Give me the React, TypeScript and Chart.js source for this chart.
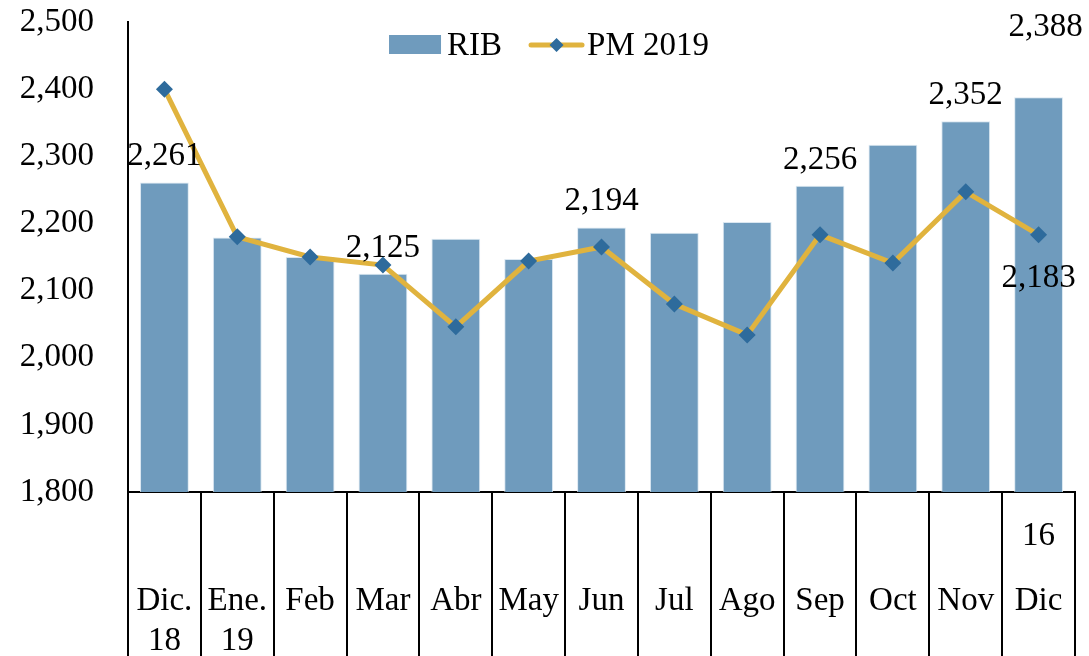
import React, { useEffect, useRef } from "react";
import { Chart, registerables } from "chart.js";

Chart.register(...registerables);

// ---- Data ----
const categories: (string | string[])[] = [
  ["Dic.", "18"],
  ["Ene.", "19"],
  "Feb",
  "Mar",
  "Abr",
  "May",
  "Jun",
  "Jul",
  "Ago",
  "Sep",
  "Oct",
  "Nov",
  ["16", "Dic"],
];
const ribValues = [2261, 2179, 2150, 2125, 2177, 2147, 2194, 2186, 2202, 2256, 2317, 2352, 2388];
const pmValues = [2400, 2180, 2150, 2138, 2046, 2144, 2165, 2080, 2034, 2183, 2141, 2247, 2183];
const ribLabeled = [0, 3, 6, 9, 11, 12];
const pmLabeled = [12];
const yMin = 1800;
const yMax = 2500;
const yStep = 100;

// ---- Styles ----
const FONT = '"Liberation Serif", "Times New Roman", serif';
const FONT_SIZE = 33;
const BAR = "#6f9bbd";
const LINE = "#e0b33e";
const DIAMOND = "#2e6b9c";

const fmt = (v: number) => v.toLocaleString("en-US");

const dataLabelsPlugin = {
  id: "dataLabels",
  afterDatasetsDraw(chart: any) {
    const ctx = chart.ctx;
    ctx.save();
    ctx.font = `${FONT_SIZE}px ${FONT}`;
    ctx.fillStyle = "#000";
    ctx.textAlign = "center";
    ctx.textBaseline = "alphabetic";
    const barMeta = chart.getDatasetMeta(0);
    ribLabeled.forEach((i) => {
      const el = barMeta.data[i];
      let x = el.x;
      let y = el.y - 17;
      if (i === ribValues.length - 1) {
        x += 7;
        y = el.y - 61;
      }
      ctx.fillText(fmt(ribValues[i]), x, y);
    });
    const lineMeta = chart.getDatasetMeta(1);
    pmLabeled.forEach((i) => {
      const el = lineMeta.data[i];
      ctx.fillText(fmt(pmValues[i]), el.x, el.y + 52);
    });
    ctx.restore();
  },
};

const xLabelsPlugin = {
  id: "xLabels",
  afterDraw(chart: any) {
    const { ctx, chartArea } = chart;
    const xs = chart.scales.x;
    ctx.save();
    ctx.font = `${FONT_SIZE}px ${FONT}`;
    ctx.fillStyle = "#000";
    ctx.textAlign = "center";
    ctx.textBaseline = "alphabetic";
    const base = chartArea.bottom + 118;
    categories.forEach((c, i) => {
      const lines = Array.isArray(c) ? c : [c];
      const x = xs.getPixelForValue(i);
      let anchor = lines.findIndex((l) => /[A-Za-z]/.test(l));
      if (anchor < 0) anchor = 0;
      lines.forEach((l, j) => {
        const y = j < anchor ? base - 65 * (anchor - j) : base + 40 * (j - anchor);
        ctx.fillText(l, x, y);
      });
    });
    ctx.restore();
  },
};

const legendPlugin = {
  id: "customLegend",
  afterDraw(chart: any) {
    const ctx = chart.ctx;
    ctx.save();
    ctx.font = `${FONT_SIZE}px ${FONT}`;
    ctx.textAlign = "left";
    ctx.textBaseline = "alphabetic";
    const ds = chart.data.datasets;
    const t1 = ds[0].label as string;
    const t2 = ds[1].label as string;
    const w1 = ctx.measureText(t1).width;
    const w2 = ctx.measureText(t2).width;
    const cy = 45;
    const base = 55;
    const boxW = 52;
    const lineW = 55;
    const total = boxW + 6 + w1 + 27 + lineW + 3 + w2;
    let x = 549 - total / 2;
    ctx.fillStyle = BAR;
    ctx.fillRect(x, cy - 10, boxW, 19);
    x += boxW + 6;
    ctx.fillStyle = "#000";
    ctx.fillText(t1, x, base);
    x += w1 + 27;
    ctx.strokeStyle = LINE;
    ctx.lineWidth = 5;
    ctx.lineCap = "round";
    ctx.beginPath();
    ctx.moveTo(x + 2, cy);
    ctx.lineTo(x + lineW - 2, cy);
    ctx.stroke();
    const dx = x + lineW / 2;
    const r = 7;
    ctx.fillStyle = DIAMOND;
    ctx.beginPath();
    ctx.moveTo(dx, cy - r);
    ctx.lineTo(dx + r, cy);
    ctx.lineTo(dx, cy + r);
    ctx.lineTo(dx - r, cy);
    ctx.closePath();
    ctx.fill();
    x += lineW + 3;
    ctx.fillStyle = "#000";
    ctx.fillText(t2, x, base);
    ctx.restore();
  },
};

export default function App() {
  const ref = useRef<HTMLCanvasElement>(null);
  useEffect(() => {
    const chart = new Chart(ref.current as HTMLCanvasElement, {
      type: "bar",
      data: {
        labels: categories as any,
        datasets: [
          {
            type: "bar",
            label: "RIB",
            data: ribValues,
            backgroundColor: BAR,
            borderColor: "rgba(214,228,240,0.9)",
            borderWidth: 1,
            barPercentage: 0.67,
            categoryPercentage: 1,
            order: 1,
          } as any,
          {
            type: "line",
            label: "PM 2019",
            data: pmValues,
            borderColor: LINE,
            borderWidth: 5,
            pointStyle: "rectRot",
            pointRadius: 8.5,
            pointHoverRadius: 8.5,
            pointBackgroundColor: DIAMOND,
            pointBorderWidth: 0,
            tension: 0,
            order: 0,
          } as any,
        ],
      },
      options: {
        responsive: false,
        animation: false,
        locale: "en-US",
        layout: { padding: { top: 22, right: 14, left: 0, bottom: 0 } },
        plugins: { legend: { display: false }, tooltip: { enabled: false } },
        scales: {
          x: {
            offset: true,
            grid: {
              display: true,
              offset: true,
              drawOnChartArea: false,
              drawTicks: true,
              tickLength: 164,
              color: "#000",
              lineWidth: 2,
            },
            border: { display: true, color: "#000", width: 2 },
            ticks: { display: false },
            afterFit: (s: any) => {
              s.height = 164;
              s.paddingLeft = 0;
              s.paddingRight = 0;
            },
          },
          y: {
            min: yMin,
            max: yMax,
            ticks: {
              stepSize: yStep,
              padding: 34,
              color: "#000",
              font: { family: FONT, size: FONT_SIZE },
            },
            grid: { display: false, drawTicks: false },
            border: { display: true, color: "#000", width: 2 },
            afterFit: (s: any) => {
              s.width = 128;
              s.paddingTop = 0;
              s.paddingBottom = 0;
            },
          },
        },
      } as any,
      plugins: [dataLabelsPlugin, xLabelsPlugin, legendPlugin],
    });
    return () => chart.destroy();
  }, []);
  return (
    <div
      style={{
        position: "fixed",
        left: 0,
        top: 0,
        width: 1089,
        height: 656,
        background: "#fff",
        overflow: "hidden",
      }}
    >
      <canvas ref={ref} width={1089} height={656} style={{ display: "block" }} />
    </div>
  );
}
